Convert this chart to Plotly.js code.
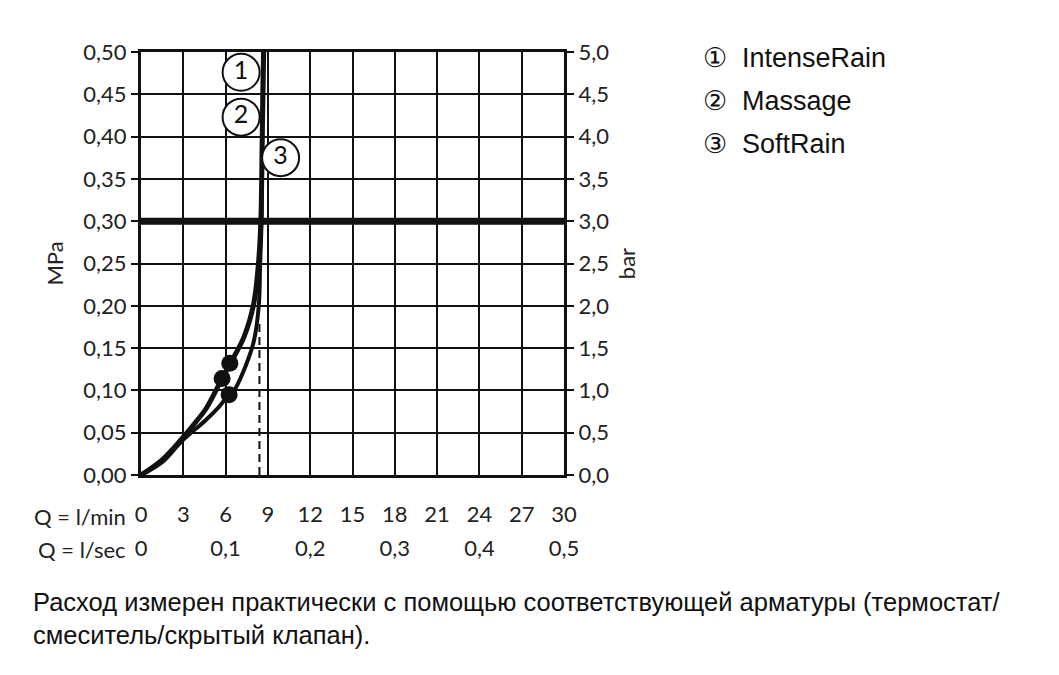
<!DOCTYPE html>
<html>
<head>
<meta charset="utf-8">
<script src="https://cdn.plot.ly/plotly-3.0.1.min.js"></script>
<style>
  body { margin: 0; background: #fff; }
  #plot { width: 1059px; height: 675px; }
</style>
</head>
<body>
<div id="plot"></div>
<script>
// flow Q in l/min, pressure p in MPa
var q_upper = [0, 1.5, 2.9, 4.0, 4.6, 5.75, 6.3, 7.3, 8.0, 8.35, 8.5, 8.6, 8.7];
var p_upper = [0, 0.018, 0.043, 0.065, 0.078, 0.114, 0.131, 0.163, 0.203, 0.254, 0.30, 0.40, 0.50];

var q_lower = [0, 1.5, 2.9, 4.6, 5.5, 6.25, 6.6, 7.4, 8.0, 8.35, 8.45, 8.55, 8.6, 8.65];
var p_lower = [0, 0.015, 0.040, 0.065, 0.080, 0.095, 0.100, 0.128, 0.158, 0.199, 0.25, 0.30, 0.40, 0.50];

// operating points (dots)
var dot_q = [6.3, 5.75, 6.25];
var dot_p = [0.132, 0.114, 0.095];

// curve numbers
var label_text = ['1', '2', '3'];
var label_q = [7.1, 7.1, 9.9];
var label_p = [0.476, 0.423, 0.375];

// flow limit marker (dashed)
var limit_q = [8.4, 8.4];
var limit_p = [0, 0.18];

// max pressure line
var max_q = [0, 30];
var max_p = [0.30, 0.30];

var qmin_ticks = [0, 3, 6, 9, 12, 15, 18, 21, 24, 27, 30];
var qsec_ticks = [0, 0.1, 0.2, 0.3, 0.4, 0.5];
var qsec_text = ['0', '0,1', '0,2', '0,3', '0,4', '0,5'];

var legend_lines = ['\u2460  IntenseRain', '\u2461  Massage', '\u2462  SoftRain'];
var caption = 'Расход измерен практически с помощью соответствующей арматуры (термостат/<br>смеситель/скрытый клапан).';

var chartFont = 'Lato, "DejaVu Sans", sans-serif';
var textFont = '"Liberation Sans", Arial, sans-serif';

var data = [
  { x: max_q, y: max_p, mode: 'lines', line: {color: '#111', width: 7}, hoverinfo: 'skip' },
  { x: limit_q, y: limit_p, mode: 'lines', line: {color: '#111', width: 2, dash: '8px,5px'}, hoverinfo: 'skip' },
  { x: q_lower, y: p_lower, mode: 'lines', line: {color: '#111', width: 4, shape: 'spline'} },
  { x: q_upper, y: p_upper, mode: 'lines', line: {color: '#111', width: 5, shape: 'spline'} },
  { x: dot_q, y: dot_p, mode: 'markers', marker: {color: '#111', size: 17} },
  { x: label_q, y: label_p, mode: 'markers+text', text: label_text,
    textposition: 'middle center', textfont: {family: chartFont, size: 25, color: '#111'},
    marker: {color: '#fff', size: 37, line: {color: '#111', width: 2}}, cliponaxis: false },
  // dummy trace to carry second x axis (l/sec)
  { x: [0, 0.5], y: [0, 0], xaxis: 'x2', mode: 'lines', line: {width: 0}, hoverinfo: 'skip' },
  // dummy trace for bar axis
  { x: [0, 0], y: [0, 5], yaxis: 'y2', mode: 'lines', line: {width: 0}, hoverinfo: 'skip' }
];

var legendAnn = legend_lines.map(function(t, i) {
  return { text: t, xref: 'paper', yref: 'paper', x: 1.325, y: 0.985 - i * 0.1017,
    xanchor: 'left', yanchor: 'middle', showarrow: false,
    font: {family: textFont, size: 27, color: '#111'} };
});

var layout = {
  width: 1059, height: 675,
  margin: {l: 141, r: 495, t: 52, b: 200, pad: 0},
  paper_bgcolor: '#fff', plot_bgcolor: '#fff',
  showlegend: false,
  separators: ',.',
  font: {family: chartFont, size: 22, color: '#222'},
  xaxis: {
    range: [0, 30], tickvals: qmin_ticks, ticktext: qmin_ticks.map(String),
    showgrid: true, gridcolor: '#111', gridwidth: 2,
    showline: true, linecolor: '#111', linewidth: 3, mirror: true,
    ticks: '', ticklabelstandoff: 18, zeroline: false, fixedrange: true
  },
  xaxis2: {
    overlaying: 'x', anchor: 'y', side: 'bottom', range: [0, 0.5],
    tickvals: qsec_ticks, ticktext: qsec_text, showgrid: false, showline: false,
    ticks: '', ticklabelstandoff: 58, zeroline: false, fixedrange: true
  },
  yaxis: {
    range: [0, 0.5], dtick: 0.05, tickformat: '.2f',
    showgrid: true, gridcolor: '#111', gridwidth: 2,
    showline: true, linecolor: '#111', linewidth: 3,
    ticks: 'outside', ticklen: 7, tickwidth: 2, tickcolor: '#111',
    zeroline: false, fixedrange: true,
    title: {text: 'MPa', standoff: 14, font: {family: chartFont, size: 22}}
  },
  yaxis2: {
    overlaying: 'y', side: 'right', range: [0, 5], dtick: 0.5, tickformat: '.1f',
    showgrid: false, showline: true, linecolor: '#111', linewidth: 3,
    ticks: 'outside', ticklen: 7, tickwidth: 2, tickcolor: '#111',
    zeroline: false, fixedrange: true,
    title: {text: 'bar', standoff: 12, font: {family: chartFont, size: 22}}
  },
  annotations: [
    { text: 'Q = l/min', xref: 'paper', yref: 'paper', x: -0.03, y: -0.098,
      xanchor: 'right', yanchor: 'middle', showarrow: false, font: {family: chartFont, size: 22, color: '#222'} },
    { text: 'Q = l/sec', xref: 'paper', yref: 'paper', x: -0.03, y: -0.175,
      xanchor: 'right', yanchor: 'middle', showarrow: false, font: {family: chartFont, size: 22, color: '#222'} },
    { text: caption, xref: 'paper', yref: 'paper', x: -0.26, y: -0.262,
      xanchor: 'left', yanchor: 'top', align: 'left', showarrow: false,
      font: {family: textFont, size: 25.5, color: '#111'} }
  ].concat(legendAnn)
};

Plotly.newPlot('plot', data, layout, {displayModeBar: false, staticPlot: true});
</script>
</body>
</html>
